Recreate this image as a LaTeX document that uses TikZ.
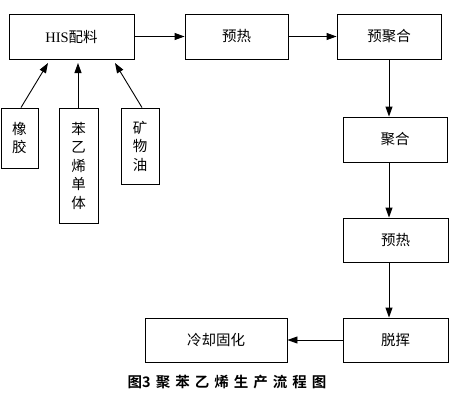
\documentclass[tikz,border=0pt]{standalone}
\usepackage{fontspec}
\setmainfont{Liberation Serif}
\newfontfamily\cjk{Noto Sans CJK SC}
\newfontfamily\cjkbold{Noto Sans CJK SC Bold}
\usetikzlibrary{arrows.meta,calc}
\begin{document}
\begin{tikzpicture}[x=1pt,y=-1pt,
  box/.style={draw,line width=0.9pt,inner sep=0pt,font=\fontsize{14.5}{18.5}\selectfont\cjk,align=center},
  arr/.style={line width=0.9pt,-{Triangle[length=10pt,width=7pt]}}]
\useasboundingbox (0,0) rectangle (450,408);
% top row
\node[box,minimum width=125pt,minimum height=45pt] (his) at (71.5,36.5) {{\rmfamily HIS}配料};
\node[box,minimum width=103pt,minimum height=45pt] (yr1) at (236.5,36.5) {预热};
\node[box,minimum width=104pt,minimum height=45pt] (yjh) at (389,36.5) {预聚合};
% right column
\node[box,minimum width=104pt,minimum height=45pt] (jh) at (395,139.5) {聚合};
\node[box,minimum width=105pt,minimum height=44pt] (yr2) at (395.5,240) {预热};
\node[box,minimum width=105pt,minimum height=44pt] (th) at (395.5,340) {脱挥};
\node[box,minimum width=142pt,minimum height=44pt] (lq) at (216,340) {冷却固化};
% raw materials
\node[box,minimum width=37pt,minimum height=60pt] (xj) at (19.5,138) {橡\\胶};
\node[box,minimum width=39pt,minimum height=115pt] (byx) at (78.5,165.5) {苯\\乙\\烯\\单\\体};
\node[box,minimum width=38pt,minimum height=76pt] (kwy) at (140,146) {矿\\物\\油};
% arrow tips under HIS box
\coordinate (t1) at (48,63);
\coordinate (t2) at (78,63);
\coordinate (t3) at (115,63);
\draw[arr] ($(xj.north)+(1.5,0)$) -- (t1);
\draw[arr] (byx.north -| t2) -- (t2);
\draw[arr] ($(kwy.north)+(2,0)$) -- (t3);
% flow
\draw[arr] (his.east) -- (yr1.west);
\draw[arr] (yr1.east) -- (yjh.west);
\draw[arr] (yjh.south) -- (jh.north -| yjh.south);
\draw[arr] (jh.south -| yjh.south) -- (yr2.north -| yjh.south);
\draw[arr] (yr2.south -| yjh.south) -- (th.north -| yjh.south);
\draw[arr] (th.west) -- (lq.east);
% caption
\node (cap) at (227,382) {\fontsize{14.5}{16}\selectfont\cjkbold 图3\hspace{5pt}聚\hspace{5pt}苯\hspace{5pt}乙\hspace{5pt}烯\hspace{5pt}生\hspace{5pt}产\hspace{5pt}流\hspace{5pt}程\hspace{5pt}图};
\end{tikzpicture}
\end{document}
